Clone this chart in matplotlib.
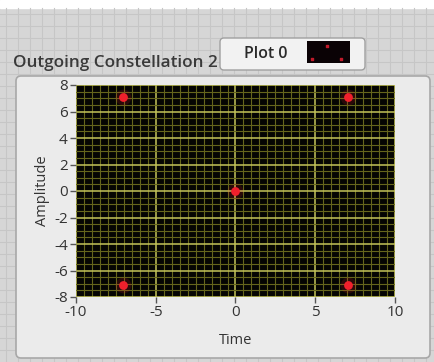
import numpy as np
import matplotlib.pyplot as plt
from matplotlib.patches import FancyBboxPatch, Rectangle
from matplotlib.ticker import MultipleLocator

plt.rcParams["font.family"] = ["Open Sans", "DejaVu Sans"]
plt.rcParams["axes.unicode_minus"] = False

# constellation points (I/Q)
point_x = [-7.07, 7.07, 0.0, -7.07, 7.07]
point_y = [7.07, 7.07, 0.0, -7.07, -7.07]
x_ticks = [-10, -5, 0, 5, 10]
y_ticks = [-8, -6, -4, -2, 0, 2, 4, 6, 8]

W, H = 435, 362
fig = plt.figure(figsize=(W / 100, H / 100), dpi=100)
fig.patch.set_facecolor("#d6d6d6")

# front panel background (pixel coords, y down)
bg = fig.add_axes([0, 0, 1, 1])
bg.set_xlim(0, W)
bg.set_ylim(H, 0)
bg.axis("off")
bg.add_patch(Rectangle((0, 0), W, 8, color="white", zorder=0))
for gx in np.arange(6, W, 12):
    bg.plot([gx, gx], [8, H], color="#c6c6c6", lw=0.8, zorder=0)
for gy in np.arange(14, H, 12):
    bg.plot([0, W], [gy, gy], color="#c6c6c6", lw=0.8, zorder=0)

# graph panel
bg.add_patch(FancyBboxPatch((16, 76), 414, 282, boxstyle="round,pad=0,rounding_size=5",
                            fc="#ebebeb", ec="#a8a8a8", lw=1.2, zorder=1))

# title label
bg.text(13, 67, "Outgoing Constellation 2", fontsize=12.3, color="#3a3a3a",
        fontweight="semibold", va="baseline", zorder=2)

# plot legend
bg.add_patch(FancyBboxPatch((220, 38), 145, 32, boxstyle="round,pad=0,rounding_size=4",
                            fc="#f2f2f2", ec="#a0a0a0", lw=1.0, zorder=3))
bg.text(244, 54, "Plot 0", fontsize=11.5, color="#2a2a2a", fontweight="semibold",
        va="center", zorder=4)
bg.add_patch(Rectangle((307, 41), 43, 22, fc="#0a0205", ec="none", zorder=4))
bg.scatter([327, 312, 341], [46, 59, 59], s=4, marker="s", color="#c01a2a", zorder=5)

# graph
ax = fig.add_axes([76 / W, 1 - 297 / H, (395 - 76) / W, (297 - 85) / H])
ax.set_facecolor("#050503")
ax.set_xlim(-10, 10)
ax.set_ylim(-8, 8)
ax.set_xticks(x_ticks)
ax.set_yticks(y_ticks)
ax.xaxis.set_minor_locator(MultipleLocator(0.5))
ax.yaxis.set_minor_locator(MultipleLocator(0.5))
ax.grid(which="minor", color="#65651c", lw=0.8)
ax.grid(which="major", color="#c4c45a", lw=1.1)
ax.set_axisbelow(True)
for s in ax.spines.values():
    s.set_visible(False)
ax.tick_params(which="minor", length=0)
ax.tick_params(which="major", length=4, width=1, color="#555555", labelcolor="#333333",
               labelsize=11, pad=2)

ax.scatter(point_x, point_y, s=130, color="#ff2030", alpha=0.15, lw=0, zorder=3)
ax.scatter(point_x, point_y, s=40, color="#f0202c", lw=0, zorder=4)

ax.set_xlabel("Time", fontsize=10.5, color="#333333", labelpad=9)
ax.set_ylabel("Amplitude", fontsize=10.5, color="#333333", labelpad=3)

fig.savefig("out.png", dpi=100, facecolor=fig.get_facecolor())
